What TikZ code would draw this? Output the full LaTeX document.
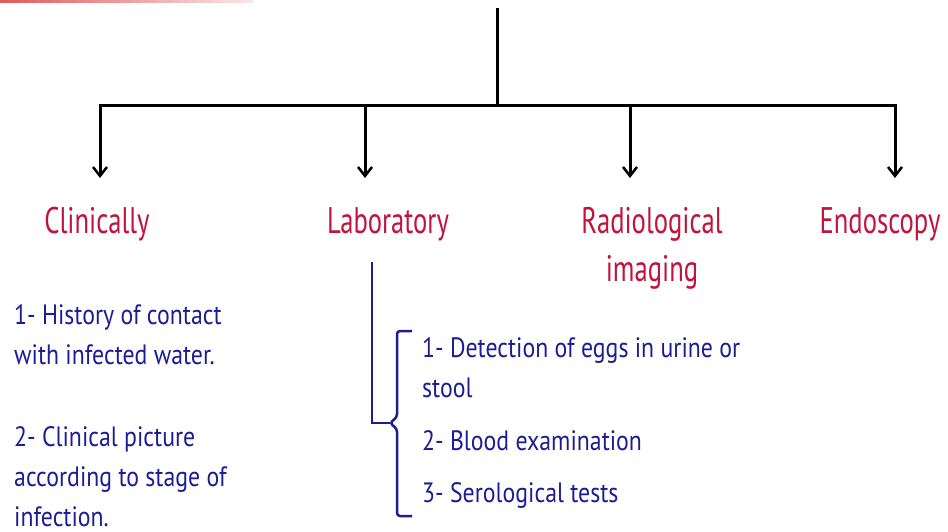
\documentclass[tikz,border=0pt]{standalone}
\usepackage{fontspec}
\setmainfont[FakeStretch=0.72]{PT Sans}
\newfontfamily\itemfont[FakeStretch=0.85]{PT Sans}
\usetikzlibrary{arrows.meta}
\definecolor{hdr}{HTML}{C0143C}
\definecolor{txt}{HTML}{1C1C94}
\definecolor{topred}{HTML}{E05A5A}
\tikzset{
  conn/.style={line width=3pt, black},
  arr/.style={conn, -{Straight Barb[length=9pt,width=14pt,line width=2.5pt]}},
  head/.style={text=hdr, font=\fontsize{37}{48}\selectfont, inner sep=0pt, align=center},
  item/.style={text=txt, font=\itemfont\fontsize{28}{40}\selectfont, inner sep=0pt, align=left, anchor=west},
  blueline/.style={txt, line width=2.5pt},
}
\begin{document}
\begin{tikzpicture}[x=1pt,y=-1pt]
\useasboundingbox (0,0) rectangle (948,531);
\shade[left color=topred, right color=topred!15] (0,0) rectangle (253,2.5);
% trunk
\coordinate (top) at (497,8);
\coordinate (mid) at (497,105);
\coordinate (a1) at (100,178);
\coordinate (a2) at (365,178);
\coordinate (a3) at (630,178);
\coordinate (a4) at (895,178);
\draw[conn] (top) -- (mid);
\draw[arr, line join=miter] (mid) -| (a1);
\draw[arr, line join=miter] (mid) -| (a2);
\draw[arr, line join=miter] (mid) -| (a3);
\draw[arr, line join=miter] (mid) -| (a4);
% headers
\node[head] (clin) at (97,224) {Clinically};
\node[head] (lab) at (388,224) {Laboratory};
\node[head] (rad) at (652,248) {Radiological\\imaging};
\node[head] (endo) at (880,224) {Endoscopy};
% left list
\node[item] (c1) at (14,335) {1- History of contact\\with infected water.};
\node[item] (c2) at (14,477) {2- Clinical picture\\according to stage of\\infection.};
% lab bracket
\coordinate (l0) at (372,262);
\coordinate (l1) at (372,423);
\coordinate (bt) at (390,423);
\draw[blueline, line join=miter] (l0) -- (l1) -- (bt);
\coordinate (b1) at (412,331);
\coordinate (b2) at (397,331);
\coordinate (b3) at (397,417);
\coordinate (b4) at (397,429);
\coordinate (b5) at (397,516);
\coordinate (b6) at (412,516);
\draw[blueline, rounded corners=3pt] (b1) -- (b2) -- (b3) -- (bt) -- (b4) -- (b5) -- (b6);
% lab list
\node[item] (r1) at (422,368) {1- Detection of eggs in urine or\\stool};
\node[item] (r2) at (422,441) {2- Blood examination};
\node[item] (r3) at (422,495) {3- Serological tests};
\end{tikzpicture}
\end{document}
